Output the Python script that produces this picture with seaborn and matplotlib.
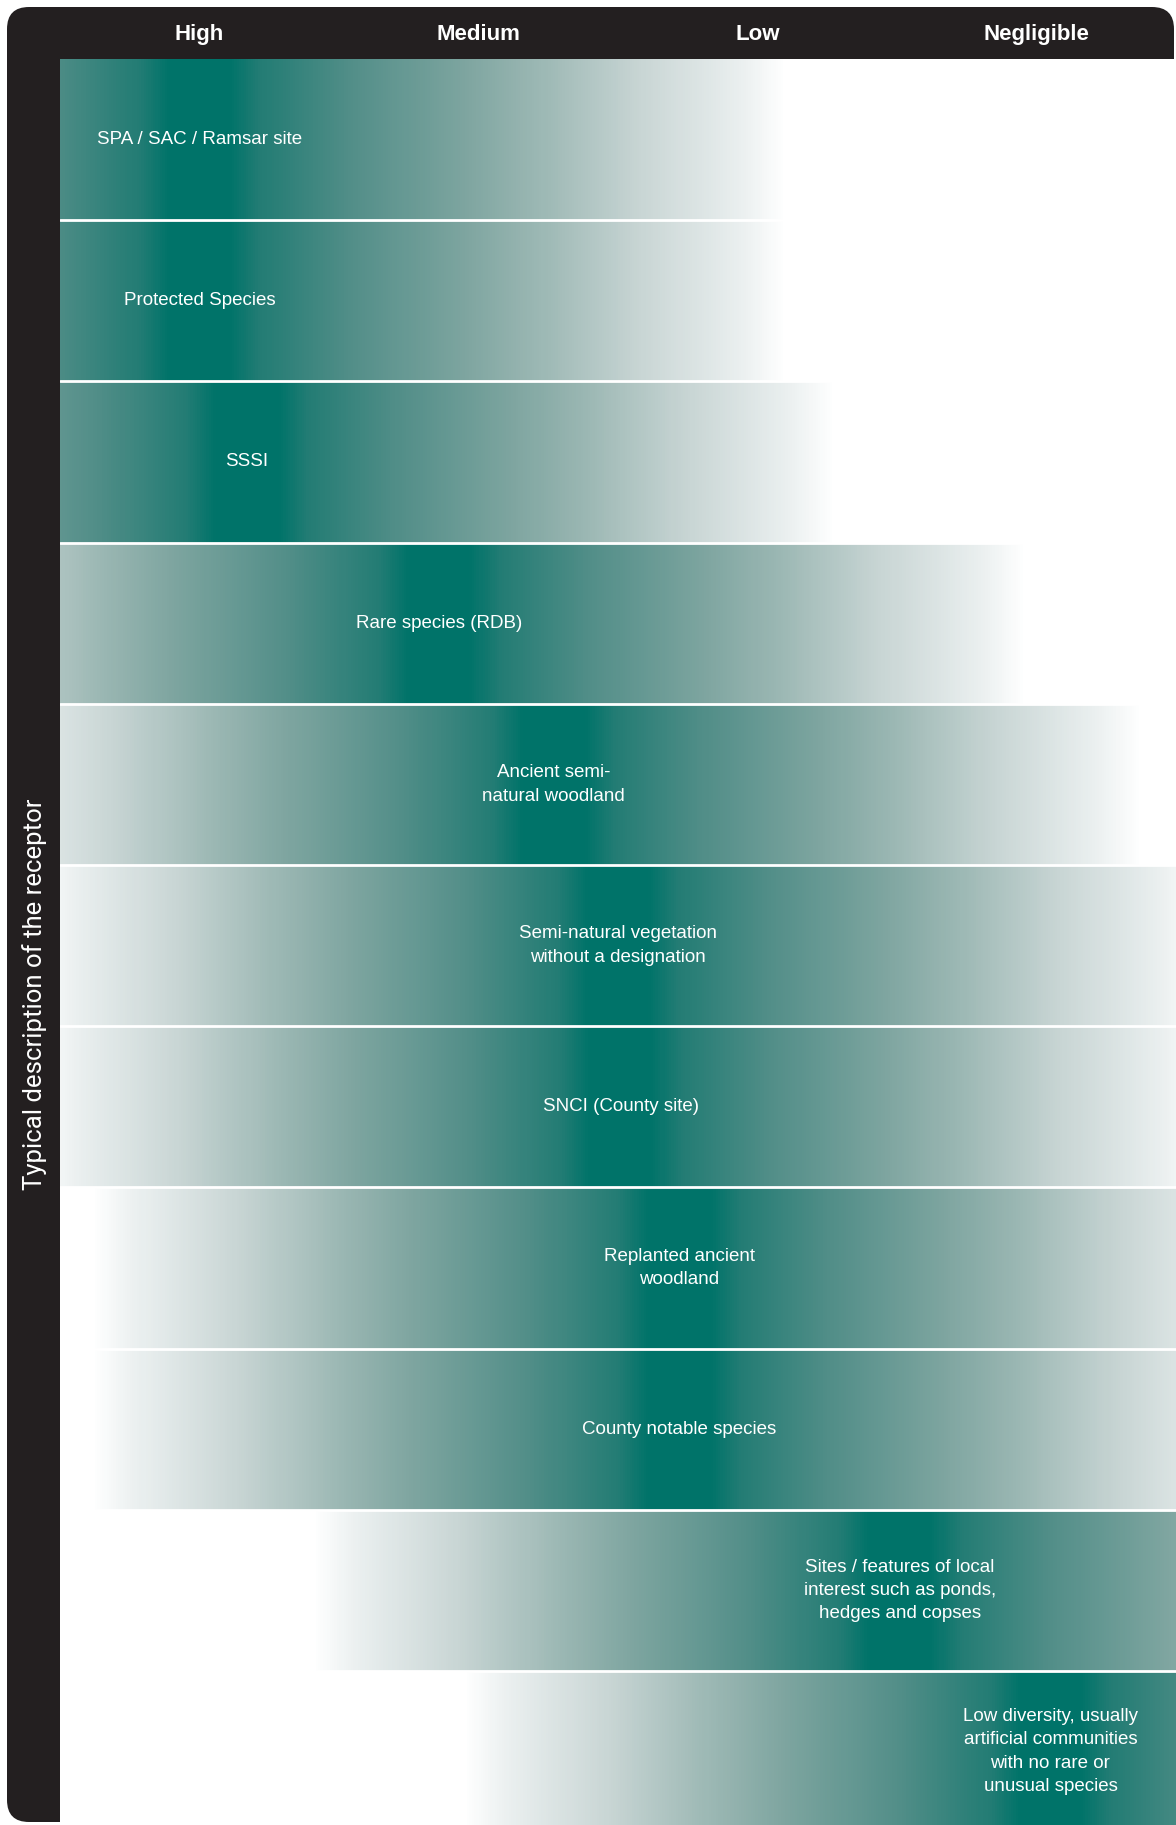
import numpy as np
import matplotlib
matplotlib.use('Agg')
import matplotlib.pyplot as plt
from matplotlib.colors import LinearSegmentedColormap
from matplotlib.patches import FancyBboxPatch
import seaborn as sns

# sensitivity levels (columns) and receptors (rows)
levels = ['High', 'Medium', 'Low', 'Negligible']
receptors = [
    'SPA / SAC / Ramsar site',
    'Protected Species',
    'SSSI',
    'Rare species (RDB)',
    'Ancient semi-\nnatural woodland',
    'Semi-natural vegetation\nwithout a designation',
    'SNCI (County site)',
    'Replanted ancient\nwoodland',
    'County notable species',
    'Sites / features of local\ninterest such as ponds,\nhedges and copses',
    'Low diversity, usually\nartificial communities\nwith no rare or\nunusual species',
]
# where each receptor sits on the level scale (0 = High ... 3 = Negligible)
peak_level = [0.0, 0.0, 0.17, 0.86, 1.27, 1.50, 1.51, 1.72, 1.72, 2.51, 3.05]
spread = 2.17  # levels over which a band fades out to white

sns.set_style('white')
plt.rcParams['font.family'] = ['Liberation Sans', 'DejaVu Sans']

K = 120  # heatmap cells per level
xs = -0.5 + (np.arange(len(levels) * K) + 0.5) / K
grid = np.array([np.clip(np.abs(xs - p) / spread, 0, 1) for p in peak_level])

cmap = LinearSegmentedColormap.from_list('fade', [
    (0.0, '#007369'), (0.05, '#007369'), (0.1, '#237c74'), (0.25, '#528e88'),
    (0.44, '#7ea5a0'), (0.56, '#9bb7b3'), (0.73, '#c8d5d4'), (0.9, '#ebf0f0'),
    (0.97, '#ffffff'), (1.0, '#ffffff')])

W, H = 1176, 1825
fig = plt.figure(figsize=(W / 100, H / 100), dpi=100)

# dark rounded frame behind everything
bg = fig.add_axes([0, 0, 1, 1])
bg.set_xlim(0, W)
bg.set_ylim(H, 0)
bg.axis('off')
bg.add_patch(FancyBboxPatch((7, 7), 1167, 1815, boxstyle='round,pad=0,rounding_size=22',
                            facecolor='#231f20', edgecolor='none'))

top, left = 59, 60
row_h = 161.2
ax = fig.add_axes([left / W, (H - top - row_h * len(receptors)) / H,
                   (W - left) / W, row_h * len(receptors) / H])
sns.heatmap(grid, cmap=cmap, vmin=0, vmax=1, cbar=False,
            xticklabels=False, yticklabels=False, ax=ax, rasterized=True)

for i in range(1, len(receptors)):
    ax.axhline(i, color='white', lw=2)

for i, (lab, p) in enumerate(zip(receptors, peak_level)):
    ax.text((p + 0.5) * K, i + 0.5, lab, ha='center', va='center', color='white',
            fontsize=13.5, linespacing=1.48, multialignment='center')

ax.set_xticks([(k + 0.5) * K for k in range(len(levels))])
ax.set_xticklabels(levels)
ax.xaxis.tick_top()
ax.tick_params(axis='x', length=0, pad=17.5, labelcolor='white', labelsize=16)
for lbl in ax.get_xticklabels():
    lbl.set_fontweight('bold')
    lbl.set_va('center')

fig.text(35 / W, 1 - 994 / H, 'Typical description of the receptor', rotation=90,
         ha='center', va='center', color='white', fontsize=18.5,
         family=['Roboto', 'DejaVu Sans'], fontweight='normal')

fig.savefig('out.png', dpi=100)
